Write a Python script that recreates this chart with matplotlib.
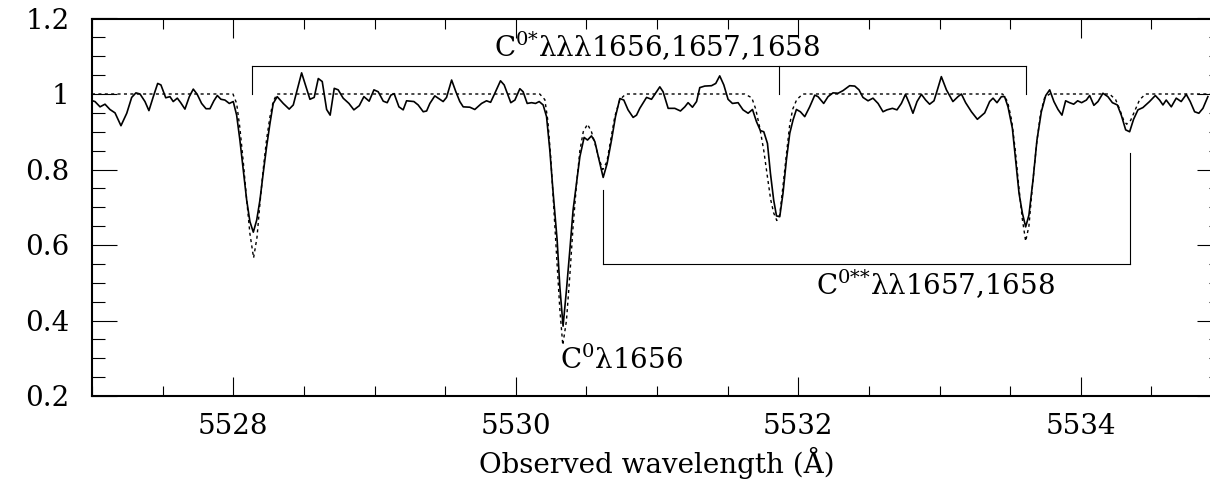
import numpy as np
import matplotlib
matplotlib.use("Agg")
import matplotlib.pyplot as plt
from matplotlib.ticker import MultipleLocator, FuncFormatter

plt.rcParams['font.family'] = ['DejaVu Serif']
plt.rcParams['mathtext.fontset'] = 'custom'
plt.rcParams['mathtext.rm'] = 'DejaVu Serif'
plt.rcParams['mathtext.it'] = 'DejaVu Serif'

# --- observed spectrum (solid) ---
obs_wave = [
    5526.986, 5527.021, 5527.057, 5527.092, 5527.127, 5527.163, 5527.205, 5527.246, 5527.281, 5527.311,
    5527.340, 5527.375, 5527.403, 5527.434, 5527.465, 5527.488, 5527.522, 5527.552, 5527.575, 5527.604,
    5527.628, 5527.658, 5527.689, 5527.717, 5527.745, 5527.776, 5527.807, 5527.835, 5527.863, 5527.887,
    5527.913, 5527.941, 5527.972, 5528.000, 5528.024, 5528.047, 5528.071, 5528.095, 5528.118, 5528.142,
    5528.166, 5528.189, 5528.212, 5528.236, 5528.260, 5528.283, 5528.311, 5528.354, 5528.396, 5528.425,
    5528.484, 5528.543, 5528.573, 5528.602, 5528.630, 5528.661, 5528.686, 5528.715, 5528.743, 5528.778,
    5528.819, 5528.854, 5528.892, 5528.925, 5528.962, 5528.996, 5529.026, 5529.062, 5529.090, 5529.116,
    5529.139, 5529.173, 5529.203, 5529.227, 5529.279, 5529.309, 5529.345, 5529.369, 5529.392, 5529.427,
    5529.463, 5529.486, 5529.510, 5529.546, 5529.576, 5529.604, 5529.628, 5529.675, 5529.710, 5529.758,
    5529.793, 5529.822, 5529.852, 5529.892, 5529.918, 5529.965, 5529.994, 5530.029, 5530.052, 5530.081,
    5530.112, 5530.140, 5530.166, 5530.194, 5530.218, 5530.241, 5530.265, 5530.293, 5530.312, 5530.335,
    5530.359, 5530.383, 5530.406, 5530.430, 5530.454, 5530.484, 5530.508, 5530.536, 5530.560, 5530.590,
    5530.619, 5530.647, 5530.678, 5530.706, 5530.737, 5530.765, 5530.795, 5530.831, 5530.855, 5530.878,
    5530.926, 5530.961, 5531.020, 5531.043, 5531.079, 5531.126, 5531.166, 5531.197, 5531.220, 5531.251,
    5531.280, 5531.303, 5531.338, 5531.386, 5531.416, 5531.444, 5531.473, 5531.503, 5531.534, 5531.574,
    5531.609, 5531.645, 5531.676, 5531.704, 5531.732, 5531.756, 5531.782, 5531.803, 5531.826, 5531.846,
    5531.869, 5531.892, 5531.916, 5531.940, 5531.963, 5531.987, 5532.015, 5532.046, 5532.081, 5532.117,
    5532.140, 5532.180, 5532.211, 5532.246, 5532.282, 5532.317, 5532.364, 5532.400, 5532.430, 5532.458,
    5532.494, 5532.529, 5532.565, 5532.600, 5532.628, 5532.667, 5532.699, 5532.730, 5532.759, 5532.784,
    5532.812, 5532.841, 5532.872, 5532.902, 5532.930, 5532.961, 5532.985, 5533.013, 5533.049, 5533.095,
    5533.131, 5533.155, 5533.185, 5533.226, 5533.268, 5533.320, 5533.355, 5533.379, 5533.407, 5533.438,
    5533.461, 5533.485, 5533.516, 5533.539, 5533.563, 5533.587, 5533.610, 5533.633, 5533.662, 5533.690,
    5533.721, 5533.752, 5533.780, 5533.810, 5533.839, 5533.867, 5533.893, 5533.921, 5533.950, 5533.978,
    5534.006, 5534.040, 5534.063, 5534.093, 5534.122, 5534.157, 5534.192, 5534.224, 5534.259, 5534.287,
    5534.318, 5534.346, 5534.374, 5534.405, 5534.440, 5534.487, 5534.528, 5534.558, 5534.582, 5534.605,
    5534.641, 5534.676, 5534.711, 5534.747, 5534.775, 5534.806, 5534.836, 5534.865, 5534.900,
]
obs_flux = [
    0.984, 0.980, 0.966, 0.973, 0.959, 0.950, 0.916, 0.949, 0.991, 1.003,
    1.000, 0.980, 0.956, 0.993, 1.028, 1.024, 0.990, 0.993, 0.980, 0.989,
    0.977, 0.960, 0.993, 1.013, 0.999, 0.975, 0.961, 0.961, 0.982, 0.996,
    0.986, 0.984, 0.975, 0.980, 0.944, 0.878, 0.799, 0.719, 0.662, 0.634,
    0.666, 0.719, 0.790, 0.860, 0.922, 0.975, 0.993, 0.975, 0.960, 0.971,
    1.056, 0.986, 0.991, 1.041, 1.033, 0.959, 0.944, 1.015, 1.011, 0.989,
    0.975, 0.958, 0.969, 0.993, 0.981, 1.011, 1.006, 0.981, 0.977, 0.997,
    1.001, 0.966, 0.958, 0.982, 0.980, 0.971, 0.953, 0.955, 0.975, 0.995,
    0.986, 0.980, 0.991, 1.037, 1.006, 0.980, 0.966, 0.965, 0.959, 0.975,
    0.982, 0.978, 1.002, 1.035, 1.024, 0.977, 0.984, 1.014, 1.006, 0.975,
    0.977, 0.975, 0.980, 0.971, 0.940, 0.852, 0.737, 0.613, 0.490, 0.385,
    0.481, 0.587, 0.693, 0.763, 0.834, 0.885, 0.878, 0.889, 0.874, 0.825,
    0.779, 0.816, 0.878, 0.940, 0.988, 0.984, 0.958, 0.938, 0.944, 0.962,
    0.991, 0.986, 1.019, 1.006, 0.962, 0.962, 0.955, 0.966, 0.977, 0.965,
    0.980, 1.017, 1.021, 1.022, 1.028, 1.048, 1.024, 0.986, 0.975, 0.977,
    0.958, 0.949, 0.959, 0.927, 0.903, 0.900, 0.869, 0.790, 0.719, 0.677,
    0.675, 0.737, 0.825, 0.896, 0.931, 0.959, 0.953, 0.940, 0.966, 0.997,
    0.993, 0.975, 0.993, 1.003, 1.002, 1.009, 1.022, 1.021, 1.011, 0.991,
    0.982, 0.989, 0.975, 0.953, 0.958, 0.962, 0.958, 0.975, 0.999, 0.977,
    0.949, 0.980, 0.999, 0.984, 0.973, 0.982, 1.011, 1.046, 1.011, 0.980,
    0.993, 1.000, 0.977, 0.953, 0.933, 0.950, 0.980, 0.989, 0.977, 0.993,
    0.993, 0.966, 0.909, 0.825, 0.737, 0.684, 0.648, 0.679, 0.772, 0.878,
    0.953, 0.996, 1.011, 0.980, 0.959, 0.944, 0.982, 0.977, 0.973, 0.982,
    0.977, 0.984, 0.996, 0.970, 0.980, 1.002, 0.993, 0.977, 0.971, 0.944,
    0.905, 0.900, 0.933, 0.958, 0.964, 0.980, 0.996, 0.984, 0.971, 0.984,
    0.966, 0.989, 0.980, 0.999, 0.980, 0.953, 0.949, 0.962, 0.993,
]

# --- model fit (dotted) ---
fit_wave = [
    5527.000,
    5527.998, 5528.024, 5528.047, 5528.071, 5528.095, 5528.118, 5528.144, 5528.168, 5528.189,
    5528.212, 5528.236, 5528.260, 5528.283, 5528.309,
    5530.170, 5530.206, 5530.227, 5530.248, 5530.269, 5530.291, 5530.312, 5530.333, 5530.359,
    5530.383, 5530.406, 5530.430, 5530.454, 5530.478, 5530.508, 5530.536, 5530.560, 5530.588,
    5530.616, 5530.645, 5530.673, 5530.701, 5530.737, 5530.779,
    5531.621, 5531.671, 5531.699, 5531.728, 5531.756, 5531.782, 5531.805, 5531.826, 5531.848,
    5531.869, 5531.890, 5531.919, 5531.940, 5531.961, 5531.989, 5532.032,
    5533.447, 5533.482, 5533.511, 5533.537, 5533.560, 5533.586, 5533.610, 5533.633, 5533.659,
    5533.688, 5533.716, 5533.744, 5533.780,
    5534.204, 5534.247, 5534.275, 5534.304, 5534.325, 5534.353, 5534.382, 5534.417, 5534.459,
    5535.000,
]
fit_flux = [
    1.0,
    1.0, 0.975, 0.91, 0.82, 0.72, 0.63, 0.566, 0.62, 0.71,
    0.80, 0.88, 0.94, 0.98, 1.0,
    1.0, 0.985, 0.93, 0.83, 0.70, 0.56, 0.43, 0.335, 0.40,
    0.52, 0.65, 0.76, 0.85, 0.90, 0.92, 0.90, 0.87, 0.83,
    0.80, 0.82, 0.88, 0.94, 0.985, 1.0,
    1.0, 0.99, 0.96, 0.91, 0.85, 0.78, 0.72, 0.685, 0.665,
    0.68, 0.75, 0.85, 0.92, 0.96, 0.985, 1.0,
    1.0, 0.98, 0.93, 0.85, 0.76, 0.67, 0.61, 0.65, 0.76,
    0.87, 0.95, 0.99, 1.0,
    1.0, 0.985, 0.96, 0.93, 0.92, 0.93, 0.955, 0.985, 1.0,
    1.0,
]

# line identifications
ci_star_waves = [5528.130, 5531.864, 5533.615]     # C0* triplet
ci_2star_waves = [5530.618, 5534.346]              # C0** doublet
ci_2star_tops = [0.746, 0.844]
ci_star_label = r"C$^{0{*}}$λλλ1656,1657,1658"
ci_2star_label = r"C$^{0{*}{*}}$λλ1657,1658"
ci_label = r"C$^{0}$λ1656"

fig = plt.figure(figsize=(12.1, 4.82), dpi=100)
ax = fig.add_axes([92 / 1210, 86 / 482, 1130 / 1210, 377.5 / 482])

ax.plot(obs_wave, obs_flux, color='black', lw=1.2)
ax.plot(fit_wave, fit_flux, color='black', lw=1.0, linestyle=(0, (2.2, 2.4)))

# C0* bracket
yb = 1.074
ax.plot([ci_star_waves[0], ci_star_waves[-1]], [yb, yb], color='black', lw=0.8)
for w in ci_star_waves:
    ax.plot([w, w], [yb, 1.0], color='black', lw=0.8)
ax.text(5531.0, yb + 0.008, ci_star_label, ha='center', va='bottom', fontsize=20)

# C0** bracket
yl = 0.549
ax.plot(ci_2star_waves, [yl, yl], color='black', lw=0.8)
for w, t in zip(ci_2star_waves, ci_2star_tops):
    ax.plot([w, w], [yl, t], color='black', lw=0.8)
ax.text(5532.97, 0.494, ci_2star_label, ha='center', va='center', fontsize=20)

ax.text(5530.312, 0.293, ci_label, ha='left', va='center', fontsize=20)

ax.set_xlim(5527, 5535)
ax.set_ylim(0.2, 1.2)
ax.xaxis.set_major_locator(MultipleLocator(2))
ax.xaxis.set_minor_locator(MultipleLocator(0.5))
ax.yaxis.set_major_locator(MultipleLocator(0.2))
ax.yaxis.set_minor_locator(MultipleLocator(0.05))
ax.yaxis.set_major_formatter(FuncFormatter(lambda v, p: f"{v:g}"))

ax.tick_params(axis='both', which='both', direction='in', top=True, right=True, width=0.8)
ax.tick_params(axis='x', which='major', length=13.7, pad=12, labelsize=20)
ax.tick_params(axis='x', which='minor', length=7)
ax.tick_params(axis='y', which='major', length=18, pad=16, labelsize=20)
ax.tick_params(axis='y', which='minor', length=9.4)
for s in ax.spines.values():
    s.set_linewidth(1.5)

ax.set_xlabel("Observed wavelength (Å)", fontsize=20, labelpad=5)

fig.savefig("out.png", dpi=100)
